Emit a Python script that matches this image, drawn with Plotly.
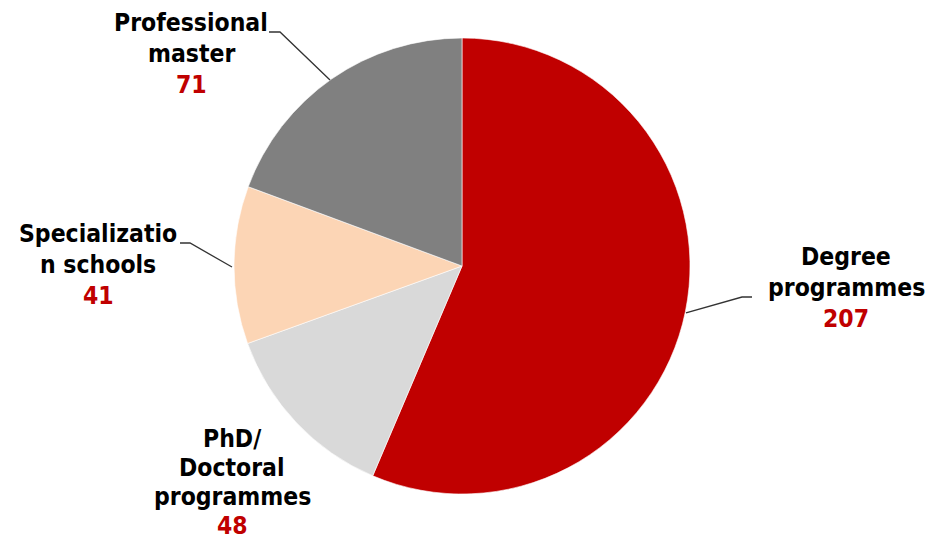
import plotly.graph_objects as go

labels = ["Degree programmes", "PhD/ Doctoral programmes", "Specialization schools", "Professional master"]
values = [207, 48, 41, 71]
colors = ["#C00000", "#D9D9D9", "#FCD5B5", "#808080"]
label_lines = [["Degree", "programmes"], ["PhD/", "Doctoral", "programmes"],
               ["Specializatio", "n schools"], ["Professional", "master"]]

W, H = 928, 538
def px(x): return x / W
def py(y): return 1 - y / H

cx, cy, r = 462, 266, 228

fig = go.Figure(go.Pie(
    labels=labels, values=values, sort=False, direction="clockwise", rotation=0,
    marker=dict(colors=colors, line=dict(color="white", width=0.6)),
    textinfo="none", hoverinfo="label+value", showlegend=False,
    domain=dict(x=[px(cx - r), px(cx + r)], y=[py(cy + r), py(cy - r)]),
))

font_family = "DejaVu Sans Condensed, DejaVu Sans, Verdana, sans-serif"
# label block positions (center x, first line y, line gap) in pixels
label_pos = [(846, 257, 30.8), (232, 438, 29.0), (98, 234, 30.8), (191, 23, 30.8)]

annotations = []
for lines, val, (lx, ly, gap) in zip(label_lines, values, label_pos):
    rows = lines + [str(val)]
    for i, t in enumerate(rows):
        is_val = i == len(rows) - 1
        annotations.append(dict(
            x=px(lx), y=py(ly + i * gap), xref="paper", yref="paper",
            text="<b>%s</b>" % t, showarrow=False, xanchor="center", yanchor="middle",
            borderpad=0,
            font=dict(family=font_family, size=24.5, color="#C00000" if is_val else "#000000"),
        ))

# leader lines (pixel paths)
leaders = [
    [(686, 313), (742, 297), (752, 297)],
    [(269, 32), (280, 32), (330, 80)],
    [(180, 243), (190, 243), (232, 267)],
]
shapes = []
for pts in leaders:
    path = "M " + " L ".join("%f,%f" % (px(x), py(y)) for x, y in pts)
    shapes.append(dict(type="path", path=path, xref="paper", yref="paper",
                       line=dict(color="#333333", width=1.3)))

fig.update_layout(
    width=W, height=H, margin=dict(l=0, r=0, t=0, b=0),
    paper_bgcolor="white", plot_bgcolor="white",
    annotations=annotations, shapes=shapes,
)
fig.write_html("out.html", config={"displayModeBar": False},
               post_script="document.body.style.margin='0';document.body.style.overflow='hidden';")
